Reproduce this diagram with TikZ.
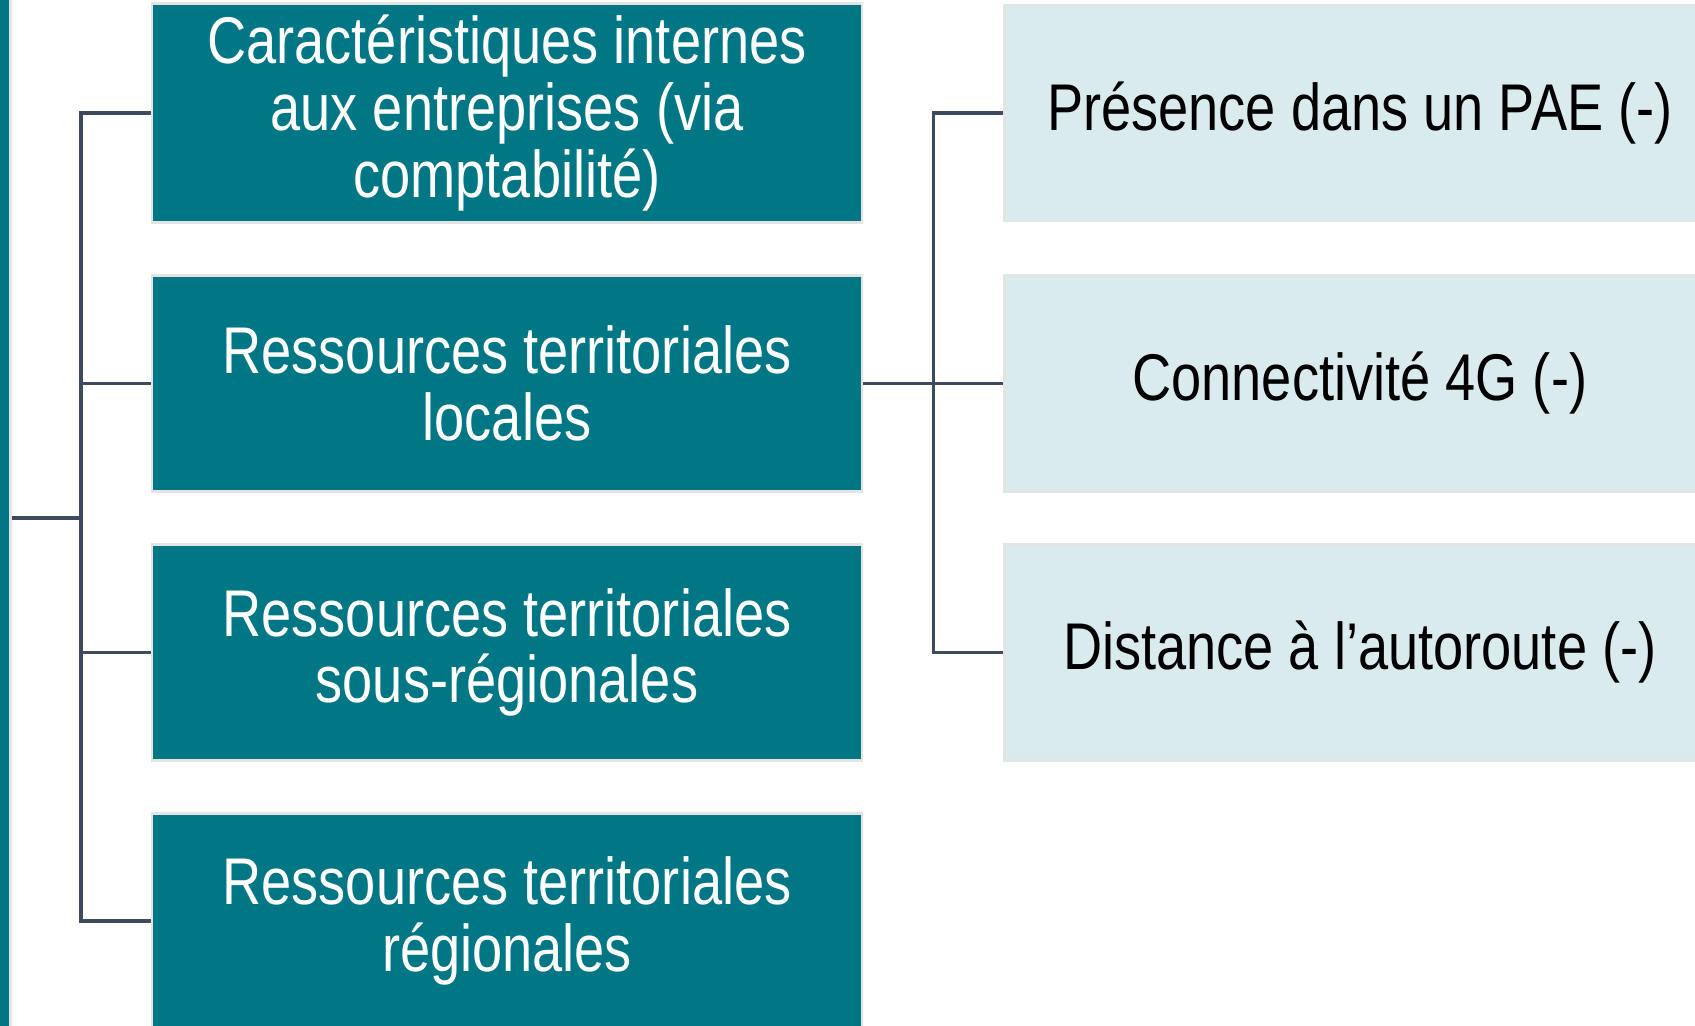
\documentclass[tikz,border=0pt]{standalone}
\usepackage{fontspec}
\setmainfont{Liberation Sans}[FakeStretch=0.82]
\usetikzlibrary{positioning}

\definecolor{tealbox}{HTML}{017786}
\definecolor{palebox}{HTML}{DAEBEE}
\definecolor{edgegray}{HTML}{E4E4E4}
\definecolor{linkcol}{HTML}{3D4B5C}

\begin{document}
\begin{tikzpicture}[
    font=\fontsize{18.8}{19}\selectfont,
    node distance=5mm and 14mm,
    cat/.style={rectangle, draw=edgegray, line width=0.8pt,
      fill=tealbox, text=white,
      minimum width=71mm, minimum height=21.6mm, align=center},
    fac/.style={rectangle, draw=edgegray, line width=0.8pt,
      fill=palebox, text=black,
      minimum width=71mm, minimum height=21.6mm, align=center},
    link/.style={line width=1pt, draw=linkcol}
  ]
    \useasboundingbox (0,0) rectangle (16.95,-10.25);

    \node[cat, minimum width=30mm, minimum height=112mm, anchor=east] (root) at (0.12,-5.18) {};

    \node[cat] (c1) at (5.07,-1.13) {Caractéristiques internes\\aux entreprises (via\\comptabilité)};
    \node[cat, below=of c1] (c2) {Ressources territoriales\\locales};
    \node[cat, below=of c2] (c3) {Ressources territoriales\\sous-régionales};
    \node[cat, below=of c3] (c4) {Ressources territoriales\\régionales};

    \node[fac, right=of c1] (r1) {Présence dans un PAE (-)};
    \node[fac, right=of c2] (r2) {Connectivité 4G (-)};
    \node[fac, right=of c3] (r3) {Distance à l’autoroute (-)};

    \draw[link] (root.east) -- ++(6.9mm,0) |- (c1.west);
    \draw[link] (root.east) -- ++(6.9mm,0) |- (c2.west);
    \draw[link] (root.east) -- ++(6.9mm,0) |- (c3.west);
    \draw[link] (root.east) -- ++(6.9mm,0) |- (c4.west);

    \draw[link] (c2.east) -- ++(7mm,0) |- (r1.west);
    \draw[link] (c2.east) -- ++(7mm,0) |- (r2.west);
    \draw[link] (c2.east) -- ++(7mm,0) |- (r3.west);
  \end{tikzpicture}
\end{document}
